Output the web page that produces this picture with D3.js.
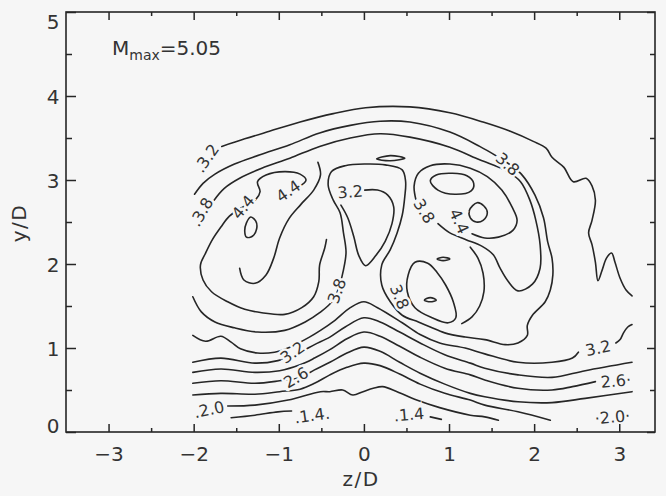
<!DOCTYPE html>
<html>
<head>
<meta charset="utf-8">
<title>M contours</title>
<script src="https://d3js.org/d3.v7.min.js"></script>
<style>
  html, body { margin: 0; padding: 0; background: #f6f6f6; }
  svg { display: block; }
  text { font-family: "DejaVu Sans", sans-serif; fill: #333; }
</style>
</head>
<body>
<svg id="chart" width="666" height="496"></svg>
<script>
// axis ticks
var zMajor = [-3, -2, -1, 0, 1, 2, 3];
var zMinor = [-2.5, -1.5, -0.5, 0.5, 1.5, 2.5];
var yMajor = [0, 1, 2, 3, 4, 5];
var yMinor = [0.5, 1.5, 2.5, 3.5, 4.5];

// contour lines as [z/D, y/D]
var outerArc = [[-1.67,3.40],[-1.40,3.49],[-1.11,3.58],[-0.75,3.69],[-0.36,3.79],[0.02,3.86],[0.54,3.87],[1.01,3.80],[1.40,3.69],[1.72,3.58],[1.99,3.46],[2.14,3.38],[2.21,3.27],[2.35,3.15],[2.46,2.98],[2.61,3.02],[2.68,2.93],[2.72,2.76],[2.68,2.52],[2.64,2.37],[2.68,2.23],[2.72,2.02],[2.75,1.80],[2.80,1.93],[2.85,2.07],[2.91,2.13],[2.95,2.02],[3.01,1.83],[3.08,1.69],[3.15,1.62]];

var loop38 = [[-1.99,2.83],[-1.89,2.96],[-1.75,3.07],[-1.52,3.19],[-1.22,3.30],[-0.87,3.42],[-0.52,3.56],[-0.16,3.65],[0.19,3.70],[0.54,3.69],[1.01,3.57],[1.36,3.40],[1.55,3.29],[1.72,3.18],[1.85,3.07],[2.01,2.82],[2.11,2.55],[2.16,2.26],[2.21,2.07],[2.22,1.87],[2.19,1.69],[2.13,1.55],[1.98,1.39],[1.92,1.27],[1.92,1.15],[1.81,1.06],[1.66,1.04],[1.42,1.10],[1.19,1.13],[0.95,1.18],[0.78,1.25],[0.64,1.31],[0.45,1.39],[0.31,1.55],[0.21,1.75],[0.21,1.99],[0.31,2.17],[0.39,2.37],[0.45,2.58],[0.48,2.80],[0.49,2.98],[0.45,3.12],[0.25,3.18],[0.02,3.19],[-0.22,3.17],[-0.38,3.10],[-0.42,2.94],[-0.36,2.76],[-0.28,2.61],[-0.24,2.37],[-0.21,2.14],[-0.24,1.93],[-0.28,1.77],[-0.36,1.57],[-0.52,1.42],[-0.69,1.31],[-0.93,1.21],[-1.25,1.19],[-1.52,1.24],[-1.75,1.31],[-1.91,1.43],[-2.01,1.61]];

var innerArc = [[-1.76,2.76],[-1.64,2.90],[-1.46,3.02],[-1.20,3.14],[-0.87,3.26],[-0.52,3.40],[-0.16,3.50],[0.19,3.55],[0.54,3.51],[1.01,3.39],[1.36,3.24],[1.67,3.11],[1.84,2.98],[1.95,2.76],[2.02,2.52],[2.07,2.23],[2.07,1.95],[1.98,1.76],[1.81,1.68],[1.69,1.80],[1.60,1.95],[1.52,2.11],[1.39,2.21],[1.20,2.29],[1.01,2.37],[0.87,2.48]];

var rightWrap = [[0.61,2.77],[0.59,2.93],[0.64,3.08],[0.78,3.17],[1.01,3.19],[1.25,3.14],[1.45,3.04],[1.62,2.88],[1.74,2.68],[1.80,2.52],[1.75,2.40],[1.58,2.32],[1.42,2.31],[1.27,2.36]];
var rightLong = [[0.78,2.99],[0.85,3.06],[1.04,3.08],[1.21,3.05],[1.29,2.96],[1.26,2.87],[1.07,2.83],[0.87,2.88]];
var rightRound = [[1.33,2.73],[1.41,2.69],[1.45,2.61],[1.40,2.52],[1.32,2.50],[1.25,2.55],[1.24,2.64]];
var topSliver = [[0.15,3.25],[0.31,3.29],[0.48,3.26],[0.31,3.23]];

var centreV = [[0.01,2.88],[0.16,2.88],[0.28,2.82],[0.35,2.68],[0.33,2.48],[0.25,2.27],[0.14,2.10],[0.02,1.98],[-0.06,2.10],[-0.12,2.33],[-0.19,2.55],[-0.27,2.70]];

var lowerDrop = [[0.60,2.02],[0.52,1.87],[0.51,1.67],[0.60,1.48],[0.80,1.36],[0.99,1.30],[1.08,1.36],[1.05,1.55],[0.96,1.75],[0.86,1.90],[0.75,2.01]];
var lowerSide = [[1.25,2.20],[1.34,2.07],[1.40,1.89],[1.41,1.67],[1.36,1.50],[1.27,1.37],[1.15,1.29]];
var lowerSliver = [[0.71,1.57],[0.78,1.60],[0.85,1.57],[0.78,1.55]];
var midSliver = [[0.86,2.06],[0.93,2.08],[1.01,2.06],[0.93,2.04]];

var leftLobe = [[-0.76,2.92],[-0.68,3.00],[-0.75,3.07],[-0.93,3.10],[-1.15,3.06],[-1.25,2.98],[-1.22,2.86],[-1.27,2.77],[-1.42,2.68],[-1.58,2.57],[-1.68,2.44],[-1.78,2.29],[-1.86,2.13],[-1.92,1.99],[-1.89,1.81],[-1.79,1.67],[-1.60,1.55],[-1.40,1.46],[-1.20,1.42],[-0.93,1.40],[-0.73,1.48],[-0.59,1.61],[-0.53,1.79],[-0.52,1.99],[-0.46,2.19],[-0.44,2.29]];
var leftWrap = [[-0.54,3.21],[-0.51,3.06],[-0.59,2.88],[-0.74,2.71],[-0.88,2.54],[-0.99,2.31],[-1.06,2.07],[-1.15,1.87],[-1.28,1.77],[-1.41,1.81],[-1.46,1.95]];
var leftOval = [[-1.33,2.56],[-1.27,2.51],[-1.26,2.42],[-1.31,2.33],[-1.38,2.32],[-1.40,2.39],[-1.38,2.49]];

var wavy32 = [[-2.01,1.15],[-1.86,1.08],[-1.68,1.14],[-1.56,1.07],[-1.45,0.99],[-1.25,0.94],[-1.05,0.95],[-0.87,1.01],[-0.64,1.13],[-0.51,1.21],[-0.34,1.33],[-0.16,1.48],[0,1.55],[0.16,1.48],[0.45,1.30],[0.66,1.16],[0.89,1.06],[1.19,1.00],[1.42,0.93],[1.81,0.83],[2.21,0.83],[2.45,0.88],[2.52,0.95]];
var hook32 = [[2.96,1.06],[3.01,1.10],[3.05,1.18],[3.10,1.25],[3.15,1.28]];
var band29 = [[-2.01,0.83],[-1.68,0.88],[-1.28,0.82],[-1.01,0.85],[-0.75,0.95],[-0.58,1.04],[-0.40,1.13],[-0.22,1.25],[0,1.36],[0.19,1.31],[0.42,1.19],[0.66,1.06],[0.95,0.92],[1.25,0.82],[1.42,0.76],[1.81,0.68],[2.21,0.65],[2.60,0.73],[3.15,0.83]];
var band26 = [[-2.01,0.71],[-1.68,0.75],[-1.28,0.71],[-0.99,0.73],[-0.75,0.80],[-0.58,0.88],[-0.40,0.98],[-0.20,1.11],[0,1.19],[0.19,1.14],[0.42,1.02],[0.66,0.89],[0.95,0.76],[1.25,0.68],[1.42,0.62],[1.81,0.52],[2.21,0.50],[2.45,0.54],[2.72,0.60]];
var band23 = [[-2.01,0.58],[-1.68,0.61],[-1.28,0.58],[-0.99,0.61],[-0.75,0.65],[-0.58,0.74],[-0.40,0.83],[-0.20,0.94],[0,1.01],[0.19,0.96],[0.42,0.83],[0.66,0.70],[0.95,0.57],[1.25,0.46],[1.42,0.42],[1.81,0.36],[2.21,0.35],[2.60,0.40],[3.15,0.48]];
var band20 = [[-2.01,0.44],[-1.68,0.46],[-1.28,0.45],[-0.99,0.48],[-0.75,0.51],[-0.58,0.58],[-0.40,0.68],[-0.20,0.77],[0,0.82],[0.19,0.79],[0.42,0.69],[0.66,0.57],[0.95,0.46],[1.25,0.38],[1.42,0.32],[1.81,0.24],[2.19,0.14]];
var band17 = [[-1.60,0.31],[-1.28,0.32],[-0.89,0.38],[-0.51,0.48],[-0.40,0.48],[-0.25,0.50],[-0.13,0.44],[-0.01,0.48],[0.11,0.52],[0.22,0.54],[0.39,0.48],[0.62,0.38],[0.89,0.29],[1.25,0.20],[1.42,0.18],[1.58,0.14]];
var band14a = [[-1.56,0.17],[-1.28,0.20],[-1.01,0.24],[-0.85,0.25]];
var band14b = [[0.78,0.18],[0.91,0.15]];

// contour labels
var labelText = [".3.2", ".3.8", "4.4", "4.4", "3.2", "3.8", "4.4", "3.8", "3.8", "3.8", "3.2", "2.6", ".2.0", ".1.4.", ".1.4", "3.2", "2.6·", "·2.0·"];
var labelZ = [-1.85, -1.91, -1.42, -0.89, -0.16, 0.71, 1.12, 1.69, -0.32, 0.42, -0.84, -0.80, -1.82, -0.61, 0.53, 2.75, 2.96, 2.92];
var labelY = [3.26, 2.62, 2.68, 2.87, 2.86, 2.63, 2.51, 3.19, 1.68, 1.61, 0.95, 0.65, 0.27, 0.20, 0.21, 1.00, 0.61, 0.18];
var labelAngle = [-55, -60, -50, -35, -5, 58, 65, 42, -70, 68, -35, -30, -12, -8, -5, -12, -5, -5];

var openLines = [outerArc, loop38, innerArc, rightWrap, centreV, lowerSide, leftLobe, leftWrap, wavy32, hook32, band29, band26, band23, band20, band17, band14a, band14b];
var closedLines = [rightLong, rightRound, topSliver, lowerDrop, lowerSliver, midSliver, leftOval];

var svg = d3.select("#chart");
var bg = "#f6f6f6";
var ink = "#262626";

var x = d3.scaleLinear().domain([-3.5, 3.42]).range([66, 655]);
var y = d3.scaleLinear().domain([0, 5]).range([432, 12]);

svg.append("rect").attr("width", 666).attr("height", 496).attr("fill", bg);

// contours
var line = d3.line().x(function(d) { return x(d[0]); }).y(function(d) { return y(d[1]); })
    .curve(d3.curveCatmullRom.alpha(0.5));
var loop = d3.line().x(function(d) { return x(d[0]); }).y(function(d) { return y(d[1]); })
    .curve(d3.curveCatmullRomClosed.alpha(0.5));

var g = svg.append("g").attr("fill", "none").attr("stroke", ink).attr("stroke-width", 1.6)
    .attr("stroke-linejoin", "round").attr("stroke-linecap", "round");
g.selectAll("path.open").data(openLines).enter().append("path").attr("class", "open").attr("d", line);
g.selectAll("path.closed").data(closedLines).enter().append("path").attr("class", "closed").attr("d", loop);

// labels with a halo that cuts the line
svg.append("g").selectAll("text").data(labelText).enter().append("text")
    .attr("transform", function(d, i) { return "translate(" + x(labelZ[i]) + "," + y(labelY[i]) + ") rotate(" + labelAngle[i] + ")"; })
    .attr("text-anchor", "middle").attr("dy", "0.36em")
    .attr("font-size", 16)
    .attr("stroke", bg).attr("stroke-width", 5).attr("paint-order", "stroke")
    .text(function(d) { return d; });

// axes, ticks pointing inward
var fmt = d3.format("d");
function styleAxis(sel) {
  sel.select(".domain").remove();
  sel.selectAll(".tick line").attr("stroke", ink).attr("stroke-width", 1.5);
  sel.selectAll(".tick text").attr("font-size", 20).attr("fill", "#333")
      .style("font-family", "DejaVu Sans, sans-serif");
}
svg.append("g").attr("transform", "translate(0,432)")
    .call(d3.axisBottom(x).tickValues(zMajor).tickFormat(fmt).tickSize(-8).tickPadding(15)).call(styleAxis);
svg.append("g").attr("transform", "translate(0,432)")
    .call(d3.axisBottom(x).tickValues(zMinor).tickSize(-4).tickFormat("")).call(styleAxis);
svg.append("g").attr("transform", "translate(0,12)")
    .call(d3.axisTop(x).tickValues(zMajor).tickSize(-8).tickFormat("")).call(styleAxis);
svg.append("g").attr("transform", "translate(0,12)")
    .call(d3.axisTop(x).tickValues(zMinor).tickSize(-4).tickFormat("")).call(styleAxis);
var left = svg.append("g").attr("transform", "translate(66,0)")
    .call(d3.axisLeft(y).tickValues(yMajor).tickFormat(fmt).tickSize(-10).tickPadding(7)).call(styleAxis);
svg.append("g").attr("transform", "translate(66,0)")
    .call(d3.axisLeft(y).tickValues(yMinor).tickSize(-6).tickFormat("")).call(styleAxis);
svg.append("g").attr("transform", "translate(655,0)")
    .call(d3.axisRight(y).tickValues(yMajor).tickSize(-8).tickFormat("")).call(styleAxis);
svg.append("g").attr("transform", "translate(655,0)")
    .call(d3.axisRight(y).tickValues(yMinor).tickSize(-5).tickFormat("")).call(styleAxis);

// the end labels sit a little inside the frame
left.selectAll(".tick text")
    .attr("text-anchor", "middle").attr("x", -13)
    .attr("dy", function(d) { return d === 0 ? "0.0em" : d === 5 ? "0.82em" : "0.36em"; });

svg.append("rect").attr("x", 66).attr("y", 12).attr("width", 589).attr("height", 420)
    .attr("fill", "none").attr("stroke", ink).attr("stroke-width", 1.6);

// titles
svg.append("text").attr("x", 361).attr("y", 486).attr("text-anchor", "middle")
    .attr("font-size", 20).attr("letter-spacing", 1.5).text("z/D");
svg.append("text").attr("transform", "translate(26,223) rotate(-90)").attr("text-anchor", "middle")
    .attr("font-size", 20).attr("letter-spacing", 1.5).text("y/D");

var note = svg.append("text").attr("x", 112).attr("y", 55).attr("font-size", 20);
note.append("tspan").text("M");
note.append("tspan").attr("font-size", 14).attr("dy", 5).text("max");
note.append("tspan").attr("dy", -5).text("=5.05");
</script>
</body>
</html>
